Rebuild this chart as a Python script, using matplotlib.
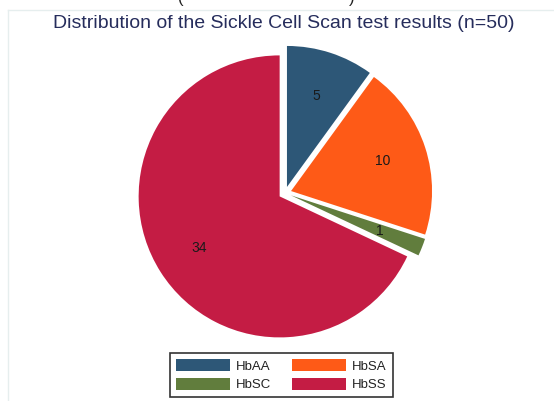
import matplotlib.pyplot as plt
from matplotlib.lines import Line2D

labels = ['HbAA', 'HbSA', 'HbSC', 'HbSS']
counts = [5, 10, 1, 34]
colors = ['#2d5777', '#fe5a17', '#617d3d', '#c41c44']
title = 'Distribution of the Sickle Cell Scan test results (n=50)'

W, H = 554, 401
cx, cy, r = 285, 193, 141

plt.rcParams['font.family'] = ['Liberation Sans', 'DejaVu Sans']
fig = plt.figure(figsize=(W / 100, H / 100), dpi=100)
ax = fig.add_axes([0, 0, 1, 1])

wedges, _, autotexts = ax.pie(
    counts, colors=colors, startangle=90, counterclock=False,
    explode=[0.045] * 4, pctdistance=0.68,
    autopct=lambda p: '%d' % round(p * sum(counts) / 100),
    wedgeprops={'linewidth': 0},
    textprops={'fontsize': 10, 'color': '#1a1a1a'})

ax.set_aspect('auto')
ax.set_xlim(-cx / r, (W - cx) / r)
ax.set_ylim(-(H - cy) / r, cy / r)
ax.axis('off')

fig.text(284 / W, 1 - 23 / H, title, ha='center', va='center',
         fontsize=14, color='#262d5c')

# clipped text from the page above
fig.text(181 / W, 1 + 1 / H, '(', ha='center', va='center', fontsize=12, color='#222222')
fig.text(352 / W, 1 + 1 / H, ')', ha='center', va='center', fontsize=12, color='#222222')

# faint outer frame
fig.add_artist(Line2D([8 / W, 1], [1 - 10 / H, 1 - 10 / H], transform=fig.transFigure,
                      color='#e6eeee', linewidth=1))
fig.add_artist(Line2D([8 / W, 8 / W], [0, 1 - 10 / H], transform=fig.transFigure,
                      color='#e6eeee', linewidth=1))

# legend fills column-wise, so reorder to get AA SA / SC SS rows
order = [0, 2, 1, 3]
leg = fig.legend([wedges[i] for i in order], [labels[i] for i in order],
                 ncol=2, loc='upper left',
                 bbox_to_anchor=(170 / W, 1 - 353 / H),
                 fontsize=9.5, frameon=True, fancybox=False,
                 handlelength=4.1, handleheight=1.06, handletextpad=0.45,
                 columnspacing=1.6, labelspacing=0.38, borderpad=0.45,
                 borderaxespad=0)
leg.get_frame().set_edgecolor('black')
leg.get_frame().set_linewidth(1.2)
for t in leg.get_texts():
    t.set_color('#222222')

fig.savefig('out.png', dpi=100)
